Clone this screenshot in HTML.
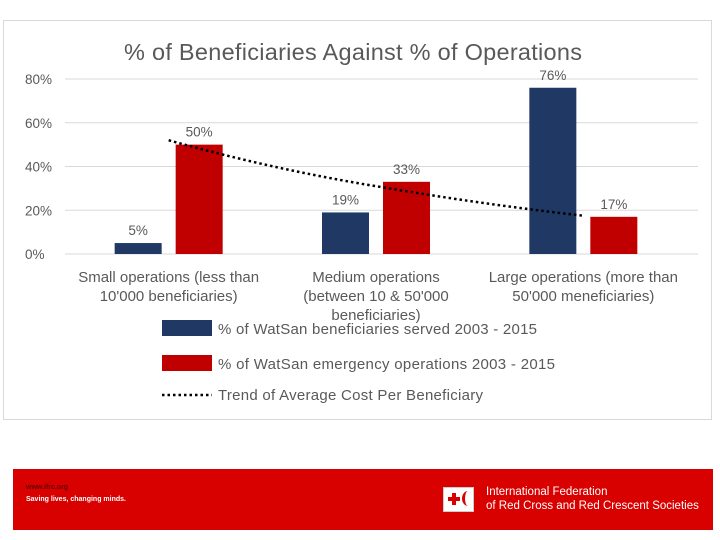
<!DOCTYPE html>
<html><head><meta charset="utf-8"><style>
body{margin:0;width:720px;height:540px;background:#fff;position:relative;overflow:hidden;font-family:"Liberation Sans","DejaVu Sans",sans-serif}
#frame{position:absolute;left:3px;top:20px;width:709px;height:400px;border:1px solid #d9d9d9;box-sizing:border-box}
#footer{position:absolute;left:13px;top:469px;width:700px;height:61px;background:#d90000}
</style></head><body>
<div id="frame"></div>
<svg id="chart" width="720" height="460" style="position:absolute;left:0;top:0">
<text x="353" y="60" text-anchor="middle" font-size="23.5" fill="#595959" textLength="458">% of Beneficiaries  Against % of Operations</text>
<g id="grid"></g><g id="bars"></g><g id="trend"></g><g id="labels"></g>
<g>
<rect x="162" y="320" width="50" height="16" fill="#1f3864"/>
<text x="218" y="334" font-size="15" fill="#595959" textLength="319">% of WatSan beneficiaries served 2003 - 2015</text>
<rect x="162" y="355" width="50" height="16" fill="#c00000"/>
<text x="218" y="369" font-size="15" fill="#595959" textLength="337">% of WatSan emergency operations 2003 - 2015</text>
<line x1="162" y1="395" x2="212" y2="395" stroke="#000" stroke-width="2.5" stroke-dasharray="2.5 3"/>
<text x="218" y="400" font-size="15" fill="#595959" textLength="265">Trend of Average Cost Per Beneficiary</text>
</g>
</svg>
<div id="footer">
<div style="position:absolute;left:13px;top:15px;font-size:7px;color:#600;font-weight:bold">www.ifrc.org</div>
<div style="position:absolute;left:13px;top:27px;font-size:7px;color:#fff;font-weight:bold">Saving lives, changing minds.</div>
<div style="position:absolute;left:430px;top:18px;width:29px;height:23px;background:#fff;border:1px solid #ccc">
<div style="position:absolute;left:4px;top:9px;width:12px;height:4px;background:#d90000"></div>
<div style="position:absolute;left:8px;top:5px;width:4px;height:12px;background:#d90000"></div>
<div style="position:absolute;left:18px;top:3px;width:12px;height:15px;border-radius:50%;border-left:3px solid #d90000;box-sizing:border-box"></div>
</div>
<div style="position:absolute;left:473px;top:16px;font-size:11.5px;color:#fff;line-height:14px">International Federation<br>of Red Cross and Red Crescent Societies</div>
</div>
<script>
const categories=[["Small operations (less than","10'000 beneficiaries)"],["Medium operations","(between 10 & 50'000","beneficiaries)"],["Large operations (more than","50'000 meneficiaries)"]];
const beneficiaries=[5,19,76];
const operations=[50,33,17];
const trend=[52,31,17.5];
const ticks=[0,20,40,60,80];
const NS="http://www.w3.org/2000/svg";
const L=65,R=687,Y0=254,Y80=79;
const cw=(R-L)/categories.length;
const y=v=>Y0-(v/80)*(Y0-Y80);
const cx=i=>L+cw*(i+0.5);
function mk(t,a,p){const e=document.createElementNS(NS,t);for(const k in a)e.setAttribute(k,a[k]);document.getElementById(p).appendChild(e);return e;}
ticks.forEach(t=>{
const g=mk("line",{x1:L,x2:698,y1:y(t),y2:y(t),stroke:"#d9d9d9","stroke-width":1},"grid");


const tx=mk("text",{x:25,y:y(t)+5,"font-size":13.5,fill:"#595959"},"grid");
tx.textContent=t+"%";


});
const bw=47;
categories.forEach((c,i)=>{
[[beneficiaries[i],"#1f3864",-54],[operations[i],"#c00000",7]].forEach(([v,col,off],j)=>{
const r=mk("rect",{x:cx(i)+off,y:y(v),width:bw,height:Y0-y(v),fill:col},"bars");


const t=mk("text",{x:cx(i)+off+bw/2,y:y(v)-8,"text-anchor":"middle","font-size":13.5,fill:"#595959"},"labels");
t.textContent=v+"%";


});
const t=mk("text",{x:cx(i),y:282,"text-anchor":"middle","font-size":15,fill:"#595959"},"labels");


c.forEach((ln,k)=>{const s=document.createElementNS(NS,"tspan");s.setAttribute("x",cx(i));s.setAttribute("dy",k?19:0);s.textContent=ln;t.appendChild(s);});
});
let d="M"+cx(0)+","+y(trend[0]);
for(let i=1;i<trend.length;i++){const mx=(cx(i-1)+cx(i))/2;d+=" Q"+mx+","+((y(trend[i-1])+y(trend[i]))/2+(i==1?6:3))+" "+cx(i)+","+y(trend[i]);}
const p=mk("path",{d:d,fill:"none",stroke:"#000","stroke-width":2.5,"stroke-dasharray":"2.5 3"},"trend");


</script>
</body></html>
